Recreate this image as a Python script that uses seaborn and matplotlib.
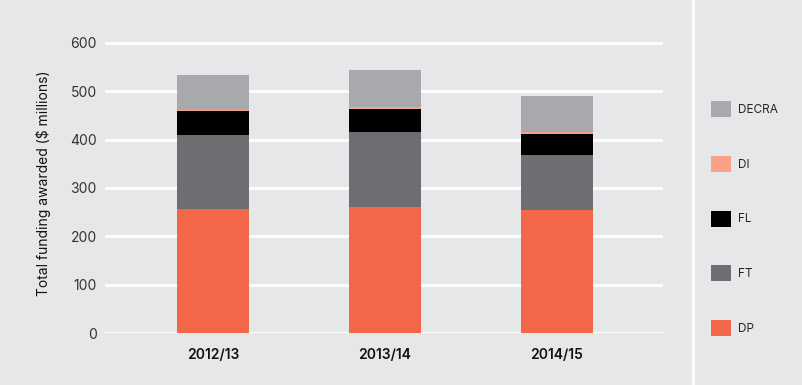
import pandas as pd
import seaborn as sns
import matplotlib.pyplot as plt
from matplotlib.patches import Patch
from matplotlib.lines import Line2D

# Values ($ millions)
years = ['2012/13', '2013/14', '2014/15']
dp = [257, 261, 255]
ft = [153, 155, 113]
fl = [48, 47, 44]
di = [3, 4, 4.5]
decra = [73, 77, 74]

schemes = ['DP', 'FT', 'FL', 'DI', 'DECRA']
colors = {'DP': '#f26749', 'FT': '#6d6e71', 'FL': '#000000',
          'DI': '#f9a086', 'DECRA': '#a7a9ac'}
bg = '#e6e7e8'

df = pd.DataFrame({'Year': years, 'DP': dp, 'FT': ft, 'FL': fl,
                   'DI': di, 'DECRA': decra})
# cumulative totals so that the overlaid bars look stacked
cum = df[schemes].cumsum(axis=1)
cum['Year'] = df['Year']

sns.set_style('white')
plt.rcParams['font.family'] = ['Inter', 'DejaVu Sans']

fig = plt.figure(figsize=(8.03, 3.85), dpi=100, facecolor=bg)
ax = fig.add_axes([0.1308, 0.135, 0.695, 0.779])
ax.set_facecolor(bg)

# draw tallest first, each next one on top of it
for s in reversed(schemes):
    sns.barplot(data=cum, x='Year', y=s, color=colors[s], width=0.42,
                saturation=1, ax=ax, zorder=3, linewidth=0, edgecolor='none')

ax.set_ylim(0, 620)
ax.set_xlim(-0.63, 2.62)
ax.set_yticks([0, 100, 200, 300, 400, 500, 600])
ax.yaxis.grid(True, color='white', linewidth=2)
ax.set_axisbelow(True)
for sp in ax.spines.values():
    sp.set_visible(False)
ax.tick_params(axis='both', length=0)
ax.tick_params(axis='y', pad=6, labelsize=10, labelcolor='#333333')
ax.tick_params(axis='x', pad=11, labelsize=10, labelcolor='#111111')
for lbl in ax.get_xticklabels():
    lbl.set_fontweight('semibold')
ax.set_xlabel('')
ax.set_ylabel('Total funding awarded ($ millions)', fontsize=10, labelpad=14,
              color='#111111')

# white separator of the legend panel
fig.add_artist(Line2D([0.863, 0.863], [0, 1], color='white', linewidth=2,
                      transform=fig.transFigure))

handles = [Patch(facecolor=colors[s], edgecolor='none', label=s)
           for s in reversed(schemes)]
fig.legend(handles=handles, loc='upper left', bbox_to_anchor=(0.885, 0.737),
           frameon=False, fontsize=8.5, handlelength=1.7, handleheight=1.7,
           handletextpad=0.6, labelspacing=3.28, borderpad=0, borderaxespad=0)

plt.savefig('out.png', dpi=100, facecolor=bg)
